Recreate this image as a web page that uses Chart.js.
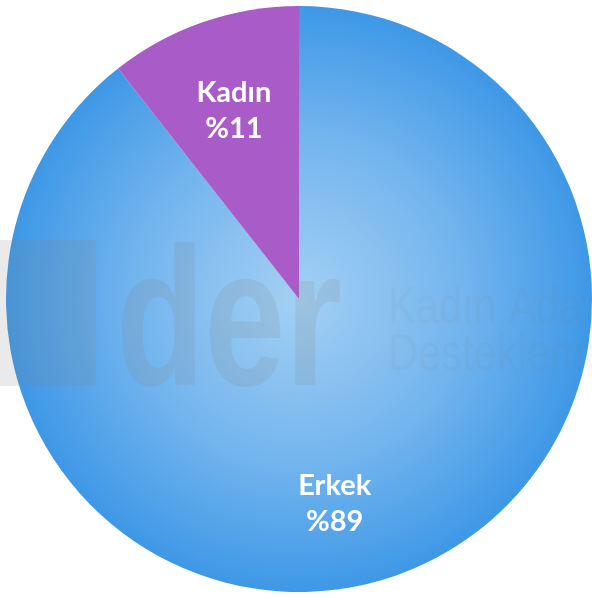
<!DOCTYPE html>
<html>
<head>
<meta charset="utf-8">
<script src="https://cdn.jsdelivr.net/npm/chart.js@4"></script>
<style>
  html, body { margin: 0; padding: 0; background: #fff; }
  #wrap { width: 592px; height: 598px; }
</style>
</head>
<body>
<div id="wrap"><canvas id="genderChart"></canvas></div>
<script>
var labels = ['Erkek', 'Kadın'];
var values = [89.4, 10.6];

// faint logo watermark lying over the pie
var watermark = {
    id: 'watermark',
    afterDatasetsDraw: function (chart) {
        var c = chart.ctx;
        c.save();
        c.fillStyle = 'rgba(128,128,128,0.17)';
        c.fillRect(0, 240, 96, 146);
        c.font = 'bold 196px "Liberation Sans", sans-serif';
        c.textBaseline = 'alphabetic';
        c.textAlign = 'left';
        c.save();
        c.translate(116, 385);
        c.scale(0.74, 1);
        c.fillText('der', 0, 0);
        c.restore();
        c.fillStyle = 'rgba(128,128,128,0.08)';
        c.font = '52px "Liberation Sans", sans-serif';
        c.save();
        c.translate(388, 323);
        c.scale(0.8, 1);
        c.fillText('Kadın Aday', 0, 0);
        c.restore();
        c.save();
        c.translate(388, 370);
        c.scale(0.8, 1);
        c.fillText('Desteklemeleri', 0, 0);
        c.restore();
        c.restore();
    }
};

// name + percentage inside each slice
var sliceLabels = {
    id: 'sliceLabels',
    afterDraw: function (chart) {
        var c = chart.ctx;
        var meta = chart.getDatasetMeta(0);
        var shift = [9.2 * Math.PI / 180, 0];
        var frac = [0.71, 0.68];
        c.save();
        c.fillStyle = '#fff';
        c.font = 'bold 29px Lato, sans-serif';
        c.textAlign = 'center';
        c.textBaseline = 'middle';
        meta.data.forEach(function (arc, i) {
            var p = arc.getProps(['x', 'y', 'startAngle', 'endAngle', 'outerRadius'], true);
            var mid = (p.startAngle + p.endAngle) / 2 + shift[i];
            var r = p.outerRadius * frac[i];
            var x = p.x + Math.cos(mid) * r;
            var y = p.y + Math.sin(mid) * r;
            c.fillText(labels[i], x, y - 18);
            c.fillText('%' + Math.round(values[i]), x, y + 18);
        });
        c.restore();
    }
};

function erkekFill(context) {
    var chart = context.chart;
    var area = chart.chartArea;
    if (!area) return '#4a9fe8';
    var cx = (area.left + area.right) / 2;
    var cy = (area.top + area.bottom) / 2;
    var r = Math.min(area.right - area.left, area.bottom - area.top) / 2;
    var g = chart.ctx.createRadialGradient(cx, cy, 0, cx, cy, r);
    g.addColorStop(0, '#a3d0f3');
    g.addColorStop(0.55, '#74b5ee');
    g.addColorStop(1, '#3e98e6');
    return g;
}

document.addEventListener('DOMContentLoaded', function () {
    var ctx = document.getElementById('genderChart').getContext('2d');
    new Chart(ctx, {
        type: 'pie',
        data: {
            labels: labels,
            datasets: [{
                data: values,
                backgroundColor: function (context) {
                    return context.dataIndex === 0 ? erkekFill(context) : '#a95cc8';
                },
                borderWidth: 0
            }]
        },
        options: {
            responsive: true,
            maintainAspectRatio: false,
            animation: false,
            layout: { padding: { left: 6, top: 2, bottom: 2 } },
            plugins: {
                legend: { display: false },
                tooltip: { enabled: false }
            }
        },
        plugins: [watermark, sliceLabels]
    });
});
</script>
</body>
</html>
